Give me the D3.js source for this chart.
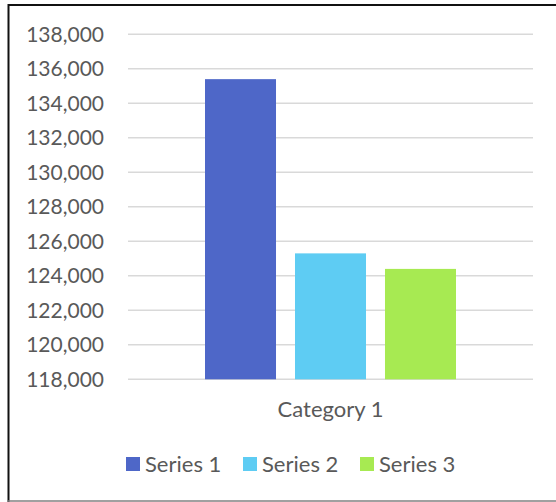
<!DOCTYPE html>
<html>
<head>
<meta charset="utf-8">
<script src="https://cdn.jsdelivr.net/npm/d3@7"></script>
<style>
  html, body { margin: 0; padding: 0; background: #fff; }
  svg { display: block; }
  .grid line { stroke: #d9d9d9; stroke-width: 1.5; }
  text { font-family: Lato, "Open Sans", sans-serif; fill: #595959; }
</style>
</head>
<body>
<div id="chart"></div>
<script>
/* global d3 */
var categories = [ "Category 1" ];
var seriesNames = [ "Series 1", "Series 2", "Series 3" ];
var seriesValues = [ 135400, 125300, 124400 ];
var yTicks = [ 118000, 120000, 122000, 124000, 126000, 128000, 130000, 132000, 134000, 136000, 138000 ];
var colors = [ "#4e67c8", "#5eccf3", "#a7ea52" ];

var width = 556;
var height = 502;
var plot = { left: 128, right: 533, top: 34.3, bottom: 379.3 };

var svg = d3.select( "#chart" ).append( "svg" )
  .attr( "width", width )
  .attr( "height", height );

// frame (screenshot crop: left/top dark, bottom grey, no right edge)
svg.append( "line" ).attr( "x1", 8.5 ).attr( "y1", 4 ).attr( "x2", 8.5 ).attr( "y2", 502 )
  .attr( "stroke", "#111" ).attr( "stroke-width", 2 );
svg.append( "line" ).attr( "x1", 8 ).attr( "y1", 5 ).attr( "x2", 556 ).attr( "y2", 5 )
  .attr( "stroke", "#111" ).attr( "stroke-width", 2 );
svg.append( "line" ).attr( "x1", 8 ).attr( "y1", 501 ).attr( "x2", 556 ).attr( "y2", 501 )
  .attr( "stroke", "#808080" ).attr( "stroke-width", 1.5 );

var y = d3.scaleLinear()
  .domain( [ 118000, 138000 ] )
  .range( [ plot.bottom, plot.top ] );

var x0 = d3.scaleBand()
  .domain( categories )
  .range( [ plot.left, plot.right ] )
  .paddingInner( 0 )
  .paddingOuter( 0.3068 );

var x1 = d3.scaleBand()
  .domain( seriesNames )
  .range( [ 0, x0.bandwidth() ] )
  .paddingInner( 0.211 )
  .paddingOuter( 0 );

var fmt = d3.format( ",.0f" );

// gridlines
svg.append( "g" ).attr( "class", "grid" )
  .selectAll( "line" )
  .data( yTicks )
  .enter().append( "line" )
  .attr( "x1", plot.left )
  .attr( "x2", plot.right )
  .attr( "y1", function ( d ) { return y( d ); } )
  .attr( "y2", function ( d ) { return y( d ); } );

// y labels
var yAxis = svg.append( "g" )
  .attr( "transform", "translate(104,0)" )
  .call( d3.axisLeft( y ).tickValues( yTicks ).tickFormat( fmt ).tickSize( 0 ).tickPadding( 0 ) );
yAxis.select( ".domain" ).remove();
yAxis.selectAll( "text" )
  .attr( "font-size", 21 )
  .attr( "fill", "#595959" )
  .style( "font-family", "Lato, 'Open Sans', sans-serif" );

// bars
svg.append( "g" )
  .selectAll( "rect" )
  .data( seriesValues )
  .enter().append( "rect" )
  .attr( "x", function ( d, i ) { return x0( categories[0] ) + x1( seriesNames[i] ); } )
  .attr( "y", function ( d ) { return y( d ); } )
  .attr( "width", x1.bandwidth() )
  .attr( "height", function ( d ) { return y( 118000 ) - y( d ); } )
  .attr( "fill", function ( d, i ) { return colors[i]; } );

// category label
var xAxis = svg.append( "g" )
  .attr( "transform", "translate(0,401)" )
  .call( d3.axisBottom( x0 ).tickSize( 0 ).tickPadding( 0 ) );
xAxis.select( ".domain" ).remove();
xAxis.selectAll( "text" )
  .attr( "font-size", 22 )
  .attr( "fill", "#595959" )
  .style( "font-family", "Lato, 'Open Sans', sans-serif" );

// legend
var legendX = [ 126, 243, 360 ];
var legend = svg.append( "g" )
  .selectAll( "g" )
  .data( seriesNames )
  .enter().append( "g" )
  .attr( "transform", function ( d, i ) { return "translate(" + legendX[i] + ",457)"; } );

legend.append( "rect" )
  .attr( "width", 14 )
  .attr( "height", 14 )
  .attr( "fill", function ( d, i ) { return colors[i]; } );

legend.append( "text" )
  .attr( "x", 19 )
  .attr( "y", 14.5 )
  .attr( "font-size", 22 )
  .text( function ( d ) { return d; } );
</script>
</body>
</html>
